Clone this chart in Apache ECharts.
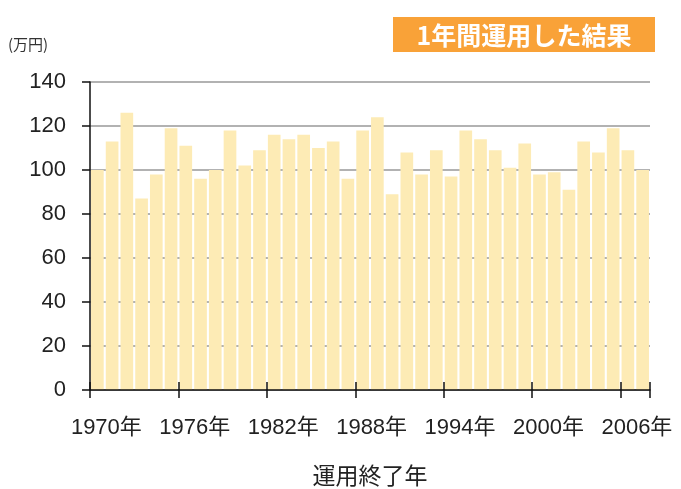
<!DOCTYPE html>
<html lang="ja">
<head>
    <meta charset="utf-8">
    <title>1年間運用した結果</title>
    <script src="https://cdn.jsdelivr.net/npm/echarts@6/dist/echarts.min.js"></script>
    <style>
        body { margin: 0; background: #fff; }
        #main { width: 681px; height: 489px; }
    </style>
</head>
<body>
    <div id="main"></div>
    <script>
        // 運用終了年
        var years = [];
        for (var y = 1970; y <= 2007; y++) years.push(y + '年');
        // 1年間運用した結果（万円）
        var values = [100, 113, 126, 87, 98, 119, 111, 96, 100, 118, 102, 109, 116,
            114, 116, 110, 113, 96, 118, 124, 89, 108, 98, 109, 97, 118,
            114, 109, 101, 112, 98, 99, 91, 113, 108, 119, 109, 100];
        var yTicks = [0, 20, 40, 60, 80, 100, 120, 140];

        var font = '"Liberation Sans", "Noto Sans CJK JP", sans-serif';
        var myChart = echarts.init(document.getElementById('main'));
        var option = {
            animation: false,
            backgroundColor: '#fff',
            grid: { left: 90, right: 31, top: 82, bottom: 99, containLabel: false, outerBoundsMode: 'none' },
            xAxis: [{
                type: 'category',
                data: years,
                boundaryGap: true,
                z: 3,
                axisLine: { lineStyle: { color: '#111', width: 1.5 } },
                axisTick: { show: true, interval: 5, length: 8, lineStyle: { color: '#111', width: 1.5 } },
                axisLabel: { interval: 5, margin: 27, fontSize: 22, color: '#222', fontFamily: font, padding: [0, 0, 0, 18] },
                name: '運用終了年',
                nameLocation: 'middle',
                nameGap: 76,
                nameTextStyle: { fontSize: 23, color: '#222', fontFamily: font }
            }, {
                type: 'category',
                data: years,
                position: 'bottom',
                z: 3,
                axisLine: { show: false },
                axisTick: { show: true, inside: true, interval: 5, length: 8, lineStyle: { color: '#111', width: 1.5 } },
                axisLabel: { show: false }
            }],
            yAxis: {
                type: 'value',
                min: yTicks[0],
                max: yTicks[yTicks.length - 1],
                interval: 20,
                axisLine: { show: true, lineStyle: { color: '#111', width: 1.5 } },
                axisTick: { show: true, length: 8, lineStyle: { color: '#111', width: 1.5 } },
                axisLabel: { margin: 24, fontSize: 22, color: '#222', fontFamily: font },
                splitLine: { lineStyle: { color: '#999', width: 1.5 } }
            },
            series: [{
                type: 'bar',
                data: values,
                barCategoryGap: '14%',
                itemStyle: { color: '#FDEBB5' }
            }],
            graphic: [{
                type: 'rect',
                left: 393, top: 17,
                shape: { width: 262, height: 35 },
                style: { fill: '#F9A238' }
            }, {
                type: 'text',
                x: 524, y: 35,
                style: { text: '1年間運用した結果', fill: '#fff', align: 'center', verticalAlign: 'middle', font: 'bold 25px "Noto Sans CJK JP", sans-serif' }
            }, {
                type: 'text',
                left: 8, top: 37,
                style: { text: '(万円)', fill: '#333', font: '15px "Noto Sans CJK JP", sans-serif' }
            }]
        };
        myChart.setOption(option);
    </script>
</body>
</html>
